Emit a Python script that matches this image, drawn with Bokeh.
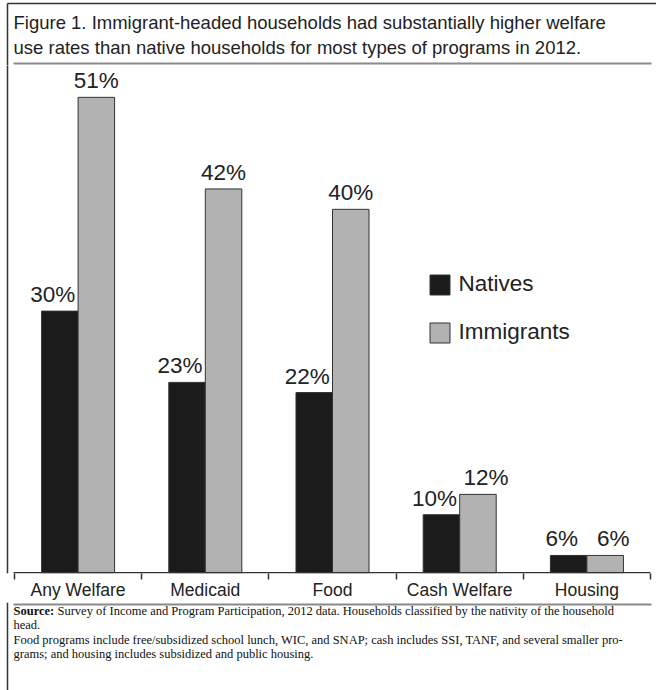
from bokeh.plotting import figure
from bokeh.layouts import column
from bokeh.models import (ColumnDataSource, FixedTicker, Legend, LegendItem, Range1d)
from bokeh.transform import dodge
from bokeh.core.properties import value
from bokeh.embed import file_html
from bokeh.resources import INLINE

# ---------------- data ----------------
categories = ["Any Welfare", "Medicaid", "Food", "Cash Welfare", "Housing"]
natives = [30, 23, 22, 10, 6]
immigrants = [51, 42, 40, 12, 6]
series_names = ["Natives", "Immigrants"]

title_lines = [
    "Figure 1. Immigrant-headed households had substantially higher welfare",
    "use rates than native households for most types of programs in 2012.",
]
source_bold = "Source:"
source_lines = [
    "Survey of Income and Program Participation, 2012 data. Households classified by the nativity of the household",
    "head.",
    "Food programs include free/subsidized school lunch, WIC, and SNAP; cash includes SSI, TANF, and several smaller pro-",
    "grams; and housing includes subsidized and public housing.",
]

# ---------------- style constants ----------------
W = 656
NAT_C = "#1b1b1b"
IMM_C = "#b2b2b2"
EDGE = "#333333"
RULE = "#8a8a8a"
TXT = "#222222"
SANS = "Liberation Sans"
SERIF = "Liberation Serif"
BORDER_X = 7


def blank(h, y_top):
    """A figure whose frame fills the canvas, with y measured downward in px."""
    f = figure(width=W, height=h, x_range=Range1d(0, W),
               y_range=Range1d(y_top + h, y_top),
               output_backend="svg", toolbar_location=None,
               min_border=0, min_border_left=0, min_border_right=0,
               min_border_top=0, min_border_bottom=0)
    f.axis.visible = False
    f.grid.visible = False
    f.outline_line_color = None
    f.background_fill_color = "white"
    f.border_fill_color = "white"
    return f


# ---------------- top: title ----------------
T_H = 65
top = blank(T_H, 0)
top.segment(x0=[BORDER_X], y0=[3], x1=[W], y1=[3], line_color=EDGE, line_width=1.5)
top.segment(x0=[BORDER_X], y0=[3], x1=[BORDER_X], y1=[T_H], line_color=EDGE, line_width=1.5)
top.text(x=[13, 13], y=[22, 46.5], text=title_lines, text_font=value(SANS),
         text_font_size="18.5px", text_color=TXT, text_baseline="alphabetic",
         text_align="left")
top.segment(x0=[13], y0=[63], x1=[651], y1=[63], line_color=RULE, line_width=2)

# ---------------- main chart ----------------
M_TOP, M_BOT = T_H, 602
M_H = M_BOT - M_TOP
FRAME_BOTTOM = 573
MB = M_BOT - FRAME_BOTTOM
FRAME_H = M_H - MB
PX_PER_UNIT = 10.18
Y0 = 4.3
CAT_W = 127.2
X_LEFT = 14

xs = [i + 0.5 for i in range(len(categories))]
src = ColumnDataSource(dict(
    x=xs,
    natives=natives,
    immigrants=immigrants,
    nat_lbl=[f"{v}%" for v in natives],
    imm_lbl=[f"{v}%" for v in immigrants],
    imm_dx=[8 if v < 20 else 0 for v in immigrants],
))

y_start = Y0 - 0.75 / PX_PER_UNIT
p = figure(width=W, height=M_H,
           x_range=Range1d(-X_LEFT / CAT_W, (W - X_LEFT) / CAT_W),
           y_range=Range1d(y_start, y_start + FRAME_H / PX_PER_UNIT),
           output_backend="svg", toolbar_location=None,
           min_border_left=0, min_border_right=0,
           min_border_top=0, min_border_bottom=MB)
p.outline_line_color = None
p.xgrid.visible = False
p.ygrid.visible = False
p.yaxis.visible = False
p.background_fill_color = "white"
p.border_fill_color = "white"

# left border of the box
p.segment(x0=[-BORDER_X / CAT_W], y0=[y_start], x1=[-BORDER_X / CAT_W],
          y1=[y_start + FRAME_H / PX_PER_UNIT + 1], line_color=EDGE, line_width=1.5)

BW = 0.287
OFF = 0.1435
r_nat = p.vbar(x=dodge("x", -OFF, range=p.x_range), top="natives", bottom=Y0,
               width=BW, source=src, fill_color=NAT_C, line_color=EDGE, line_width=1)
r_imm = p.vbar(x=dodge("x", OFF, range=p.x_range), top="immigrants", bottom=Y0,
               width=BW, source=src, fill_color=IMM_C, line_color=EDGE, line_width=1)

# baseline (axis line) from first to last category boundary
p.segment(x0=[-1 / CAT_W], y0=[Y0], x1=[len(categories)], y1=[Y0],
          line_color=EDGE, line_width=1.5)

LBL_DY = -16.5
p.text(x=dodge("x", -OFF, range=p.x_range), y="natives", text="nat_lbl", source=src,
       x_offset=-7, y_offset=LBL_DY, text_align="center", text_baseline="alphabetic",
       text_font=value(SANS), text_font_size="22.5px", text_color=TXT)
p.text(x=dodge("x", OFF, range=p.x_range), y="immigrants", text="imm_lbl", source=src,
       x_offset="imm_dx", y_offset=LBL_DY, text_align="center", text_baseline="alphabetic",
       text_font=value(SANS), text_font_size="22.5px", text_color=TXT)

# x axis: labels at category centres, tick marks at category boundaries
xa = p.xaxis[0]
xa.ticker = FixedTicker(ticks=xs, minor_ticks=list(range(len(categories) + 1)))
xa.major_label_overrides = {x: c for x, c in zip(xs, categories)}
xa.axis_line_color = None
xa.major_tick_in = 0
xa.major_tick_out = 0
xa.minor_tick_in = 0
xa.minor_tick_out = 6
xa.minor_tick_line_color = EDGE
xa.minor_tick_line_width = 1.5
xa.major_label_standoff = 0
xa.major_label_text_font = SANS
xa.major_label_text_font_size = "17.5px"
xa.major_label_text_color = TXT

legend = Legend(items=[LegendItem(label=series_names[0], renderers=[r_nat]),
                       LegendItem(label=series_names[1], renderers=[r_imm])],
                location=(426.5, FRAME_BOTTOM - 345),
                orientation="vertical",
                glyph_width=25, glyph_height=25, label_standoff=7,
                label_text_font=SANS, label_text_font_size="22.5px",
                label_text_color=TXT, label_height=26, spacing=22,
                padding=0, margin=0, border_line_alpha=0,
                background_fill_alpha=0)
p.add_layout(legend)

# ---------------- bottom: source notes ----------------
B_H = 690 - M_BOT
bot = blank(B_H, M_BOT)
bot.segment(x0=[BORDER_X], y0=[M_BOT], x1=[BORDER_X], y1=[690], line_color=EDGE, line_width=1.5)
bot.segment(x0=[13], y0=[604], x1=[651], y1=[604], line_color=RULE, line_width=2)
bot.text(x=[13], y=[610.5], text=[source_bold], text_font=value(SERIF),
         text_font_style="bold", text_font_size="12.5px", text_color="#111111",
         text_baseline="alphabetic")
bot.text(x=[57, 13, 13, 13], y=[610.5, 624, 639.5, 653.5], text=source_lines,
         text_font=value(SERIF), text_font_size="12.5px", text_color="#111111",
         text_baseline="alphabetic")

layout = column(top, p, bot)
open("out.html", "w").write(file_html(layout, INLINE))
